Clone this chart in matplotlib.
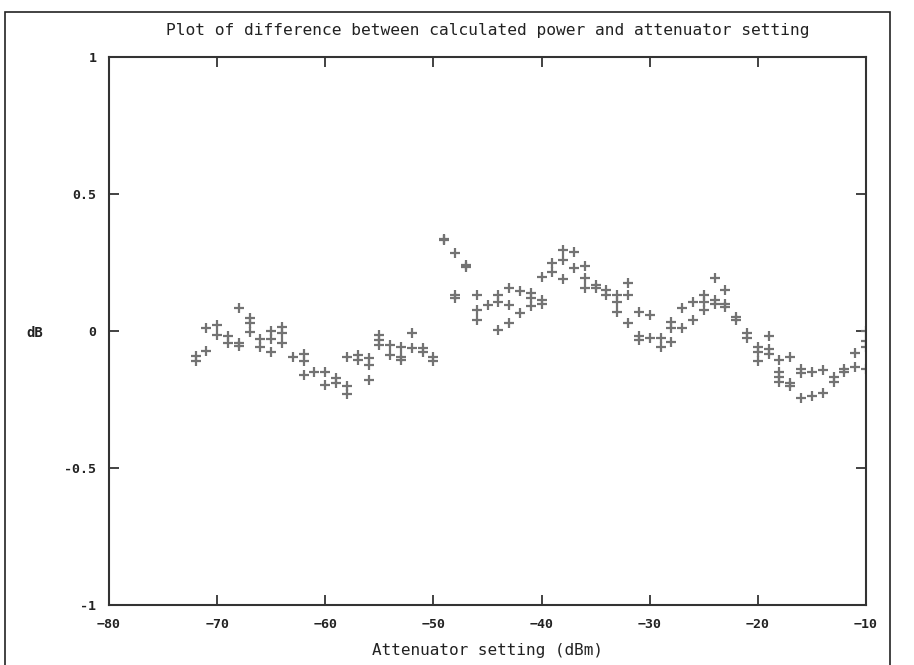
import matplotlib
matplotlib.use('Agg')
import matplotlib.pyplot as plt
from matplotlib.patches import Rectangle

# attenuator settings (dBm) and the measured differences (dB), a few readings per setting
att_setting = [-72, -72,
               -71, -71,
               -70, -70,
               -69, -69,
               -68, -68, -68,
               -67, -67, -67,
               -66, -66,
               -65, -65, -65,
               -64, -64, -64,
               -63,
               -62, -62, -62,
               -61,
               -60, -60,
               -59, -59,
               -58, -58, -58,
               -57, -57,
               -56, -56, -56,
               -55, -55, -55,
               -54, -54,
               -53, -53, -53,
               -52, -52,
               -51, -51,
               -50, -50,
               -49, -49,
               -48, -48, -48,
               -47, -47,
               -46, -46, -46,
               -45,
               -44, -44, -44,
               -43, -43, -43,
               -42, -42,
               -41, -41, -41,
               -40, -40, -40,
               -39, -39,
               -38, -38, -38,
               -37, -37,
               -36, -36, -36,
               -35, -35,
               -34, -34,
               -33, -33, -33,
               -32, -32, -32,
               -31, -31, -31,
               -30, -30,
               -29, -29,
               -28, -28, -28,
               -27, -27,
               -26, -26,
               -25, -25, -25,
               -24, -24, -24,
               -23, -23, -23,
               -22, -22,
               -21, -21,
               -20, -20, -20,
               -19, -19, -19,
               -18, -18, -18, -18,
               -17, -17, -17,
               -16, -16, -16,
               -15, -15,
               -14, -14,
               -13, -13,
               -12, -12,
               -11, -11,
               -10, -10, -10, -10]

diff_db = [-0.09, -0.11,
           0.01, -0.073,
           0.022, -0.015,
           -0.02, -0.043,
           0.083, -0.043, -0.055,
           0.047, 0.029, -0.002,
           -0.03, -0.057,
           0.0, -0.03, -0.075,
           0.016, -0.009, -0.045,
           -0.094,
           -0.085, -0.11, -0.16,
           -0.148,
           -0.148, -0.197,
           -0.17, -0.19,
           -0.094, -0.20, -0.23,
           -0.088, -0.106,
           -0.10, -0.124, -0.18,
           -0.015, -0.033, -0.05,
           -0.05, -0.088,
           -0.057, -0.094, -0.106,
           -0.009, -0.063,
           -0.063, -0.075,
           -0.094, -0.11,
           0.332, 0.335,
           0.283, 0.13, 0.12,
           0.24, 0.235,
           0.13, 0.077, 0.04,
           0.095,
           0.13, 0.107, 0.004,
           0.156, 0.095, 0.028,
           0.147, 0.067,
           0.14, 0.12, 0.09,
           0.198, 0.113, 0.099,
           0.247, 0.217,
           0.296, 0.259, 0.189,
           0.289, 0.229,
           0.237, 0.192, 0.156,
           0.168, 0.156,
           0.15, 0.131,
           0.131, 0.107, 0.07,
           0.174, 0.131, 0.028,
           0.07, -0.02, -0.033,
           0.06, -0.027,
           -0.027, -0.06,
           0.034, 0.01, -0.04,
           0.083, 0.01,
           0.107, 0.04,
           0.131, 0.107, 0.077,
           0.192, 0.113, 0.099,
           0.15, 0.10, 0.086,
           0.052, 0.04,
           -0.009, -0.027,
           -0.057, -0.075, -0.11,
           -0.02, -0.067, -0.085,
           -0.106, -0.148, -0.167, -0.185,
           -0.094, -0.19, -0.2,
           -0.14, -0.154, -0.246,
           -0.148, -0.237,
           -0.142, -0.225,
           -0.167, -0.185,
           -0.14, -0.148,
           -0.082, -0.133,
           0.0, -0.035, -0.06, -0.14]

x_ticks = [-80, -70, -60, -50, -40, -30, -20, -10]
y_ticks = [-1, -0.5, 0, 0.5, 1]
y_tick_labels = ['-1', '-0.5', '0', '0.5', '1']

plt.rcParams['font.family'] = ['DejaVu Sans Mono']
plt.rcParams['font.weight'] = 'bold'

fig = plt.figure(figsize=(9.14, 6.65), dpi=100)
ax = fig.add_axes([109 / 914, 1 - 605 / 665, (866 - 109) / 914, (605 - 57) / 665])

ax.plot(att_setting, diff_db, linestyle='none', marker='+', markersize=7.5,
        markeredgewidth=1.6, color='#737373')

ax.set_xlim(-80, -10)
ax.set_ylim(-1, 1)
ax.set_xticks(x_ticks)
ax.set_yticks(y_ticks)
ax.set_yticklabels(y_tick_labels)
ax.tick_params(direction='in', length=7, width=1.2, top=True, right=True,
               labelsize=9.5, colors='#222222', pad=9)
for spine in ax.spines.values():
    spine.set_linewidth(1.5)
    spine.set_color('#333333')

ax.set_title('Plot of difference between calculated power and attenuator setting',
             fontsize=11.7, color='#222222', pad=16)
ax.set_xlabel('Attenuator setting (dBm)', fontsize=11.5, color='#222222', labelpad=9)
fig.text(35 / 914, 1 - 333 / 665, 'dB', fontsize=10, color='#222222',
         ha='center', va='center')

# thin frame around the whole picture
fig.patches.append(Rectangle((5 / 914, -0.01), 885 / 914, 1 - 12 / 665 + 0.01,
                             transform=fig.transFigure, fill=False,
                             edgecolor='#222222', linewidth=1.2))

plt.savefig('out.png', dpi=100)
plt.close()
